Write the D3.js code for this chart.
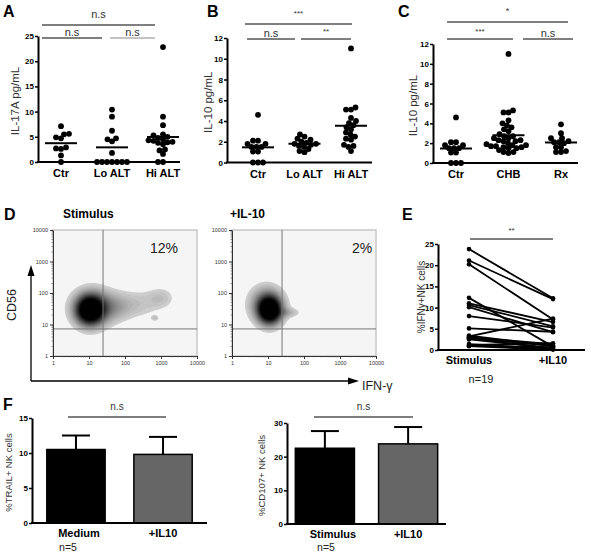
<!DOCTYPE html>
<html><head><meta charset="utf-8">
<script src="https://cdn.jsdelivr.net/npm/d3@7"></script>
<style>body{margin:0;background:#fff}svg{display:block}text{font-family:Arial,"Liberation Sans",sans-serif}</style>
</head><body><svg id="c" width="591" height="554"></svg>
<script>
// ---------------- DATA ----------------
const catsAB = ["Ctr", "Lo ALT", "Hi ALT"];
const catsC = ["Ctr", "CHB", "Rx"];
// Panel A: IL-17A pg/mL
const il17Ctr = [7.1, 5.6, 5.5, 4.9, 4.7, 2.9, 2.7, 2.6, 1.3, 0];
const il17Lo = [10.4, 9.0, 6.2, 4.7, 4.5, 4.1, 1.8, 0, 0, 0, 0, 0, 0, 0];
const il17Hi = [22.8, 9.0, 7.3, 5.5, 5.3, 5.0, 4.8, 4.5, 4.3, 4.2, 4.0, 3.9, 3.8, 3.5, 2.5, 2.3, 1.6, 0, 0];
// Panel B/C: IL-10 pg/mL
const il10Ctr = [4.6, 2.1, 2.1, 1.8, 1.8, 1.5, 1.5, 1.5, 1.05, 1.05, 0, 0, 0];
const il10Lo = [2.7, 2.5, 2.3, 2.2, 2.0, 1.9, 1.8, 1.8, 1.7, 1.6, 1.5, 1.3, 1.1, 1.0];
const il10Hi = [11.0, 5.3, 5.1, 5.1, 4.3, 4.0, 3.8, 3.6, 3.4, 3.2, 2.9, 2.7, 2.5, 2.3, 2.2, 1.7, 1.6, 1.5, 1.1];
const il10CHB = il10Lo.concat(il10Hi);
const il10Rx = [3.9, 3.0, 2.5, 2.5, 2.2, 2.1, 2.1, 2.0, 1.6, 1.6, 1.2, 1.1, 1.1];
const ticksA = [0, 5, 10, 15, 20, 25];
const ticksBC = [0, 2, 4, 6, 8, 10, 12];
// Panel D: flow cytometry density components (log10 IFN-g, log10 CD56, sdx, sdy, weight)
const flowTicks = ["1", "10", "100", "1000", "10000"];
const stimComps = [[1.02, 1.45, 0.25, 0.30, 1.0], [1.15, 1.55, 0.36, 0.35, 0.40], [1.75, 1.55, 0.30, 0.28, 0.13],
                   [2.35, 1.65, 0.42, 0.30, 0.09], [3.00, 1.85, 0.25, 0.22, 0.09], [2.83, 1.20, 0.07, 0.06, 0.10]];
const il10Comps = [[1.05, 1.45, 0.21, 0.28, 1.0], [0.95, 1.65, 0.30, 0.36, 0.32], [1.55, 1.38, 0.22, 0.10, 0.12]];
const flowPct = ["12%", "2%"];
// Panel E: %IFNg+ NK cells, paired
const eCats = ["Stimulus", "+IL10"];
const eStim = [23.8, 21.1, 20.2, 12.3, 11.0, 10.6, 10.1, 8.0, 5.1, 3.2, 3.0, 2.8, 2.5, 2.9, 1.4, 1.0, 1.2, 3.4, 0.9];
const eIL10 = [12.2, 12.0, 7.2, 0.8, 6.6, 5.6, 4.2, 5.3, 4.3, 7.4, 1.4, 1.0, 0.5, 0.2, 0.3, 0.6, 1.6, 0.9, 0.1];
const ticksE = [0, 5, 10, 15, 20, 25];
// Panel F
const fCats1 = ["Medium", "+IL10"];
const trailMean = [10.5, 9.8];
const trailErr = [2.0, 2.5];
const fCats2 = ["Stimulus", "+IL10"];
const cd107Mean = [22.5, 23.8];
const cd107Err = [5.1, 5.0];
const ticksF1 = [0, 5, 10, 15];
const ticksF2 = [0, 10, 20, 30];

// ---------------- DRAW ----------------
const svg = d3.select("#c");
function text(x, y, s, o = {}) {
  const t = svg.append("text").attr("x", x).attr("y", y).text(s)
    .attr("font-size", o.size || 11).attr("fill", o.fill || "#000")
    .attr("font-weight", o.bold ? "bold" : "normal")
    .attr("text-anchor", o.anchor || "middle");
  if (o.rot) t.attr("transform", `rotate(${o.rot},${x},${y})`);
  return t;
}
function line(x1, y1, x2, y2, o = {}) {
  return svg.append("line").attr("x1", x1).attr("y1", y1).attr("x2", x2).attr("y2", y2)
    .attr("stroke", o.stroke || "#000").attr("stroke-width", o.w || 1);
}
function styleAxis(g) {
  g.select(".domain").attr("stroke-width", 2);
  g.selectAll(".tick line").attr("stroke-width", 1.5);
  g.selectAll(".tick text").attr("font-size", 8).attr("font-weight", "bold").attr("font-family", "'Liberation Sans Narrow', Arial, sans-serif");
}
function swarm(values, y, minDist) {
  const pts = values.map(v => ({ v, y: y(v) })).sort((a, b) => a.v - b.v);
  const placed = [];
  for (const p of pts) {
    p.dx = 0;
    for (let k = 0; k < 400; k++) {
      const off = (k % 2 === 0 ? 1 : -1) * Math.ceil(k / 2) * 0.5;
      if (placed.every(q => Math.hypot(q.dx - off, q.y - p.y) >= minDist)) { p.dx = off; break; }
    }
    placed.push(p);
  }
  return placed;
}
function dotPanel(cfg) {
  const x = d3.scalePoint().domain(cfg.cats).range(cfg.xRange);
  const y = d3.scaleLinear().domain(cfg.yDomain).range(cfg.yRange);
  const g = svg.append("g");
  const ax = g.append("g").attr("transform", `translate(${cfg.axisX[0]},0)`)
    .call(d3.axisLeft(y).tickValues(cfg.yTicks).tickSize(3).tickSizeOuter(0).tickPadding(1));
  styleAxis(ax);
  g.append("line").attr("x1", cfg.axisX[0] - 1).attr("x2", cfg.axisX[1]).attr("y1", y(0)).attr("y2", y(0)).attr("stroke", "#000").attr("stroke-width", 2);
  cfg.cats.forEach((c, i) => {
    const pts = swarm(cfg.series[i], y, 4.8);
    g.selectAll(null).data(pts).join("circle").attr("cx", d => x(c) + d.dx).attr("cy", d => d.y).attr("r", 2.9).attr("fill", "#000");
    const m = d3.mean(cfg.series[i]);
    g.append("line").attr("x1", x(c) - 16).attr("x2", x(c) + 16).attr("y1", y(m)).attr("y2", y(m)).attr("stroke", "#000").attr("stroke-width", 2);
    text(x(c), y(0) + 15, c, { bold: true, size: 11 });
  });
  text(cfg.titleX, (cfg.yRange[0] + cfg.yRange[1]) / 2 + 2, cfg.title, { rot: -90, size: 11.5, fill: "#333" });
  return x;
}
function sig(x1, x2, y, label, ly, size, col) {
  line(x1, y, x2, y, { stroke: col || "#000", w: 1 });
  text((x1 + x2) / 2, ly, label, { size, fill: "#333" });
}

// Panel A
text(3, 17, "A", { bold: true, size: 16, anchor: "start" });
dotPanel({ cats: catsAB, series: [il17Ctr, il17Lo, il17Hi], xRange: [61, 163], axisX: [38, 180], yDomain: [0, 25], yRange: [162, 36], yTicks: ticksA, title: "IL-17A pg/mL", titleX: 19 });
sig(42, 155, 25, "n.s", 18, 11);
sig(42, 102, 38, "n.s", 36, 11);
sig(110, 155, 38, "n.s", 36, 11, "#888");

// Panel B
text(207, 17, "B", { bold: true, size: 16, anchor: "start" });
dotPanel({ cats: catsAB, series: [il10Ctr, il10Lo, il10Hi], xRange: [258, 351], axisX: [227, 372], yDomain: [0, 12], yRange: [162.5, 38], yTicks: ticksBC, title: "IL-10 pg/mL", titleX: 212 });
sig(245, 352, 24, "***", 16, 8);
sig(247, 295, 39, "n.s", 37, 11);
sig(301, 351, 39, "**", 34, 8);

// Panel C
text(398, 17, "C", { bold: true, size: 16, anchor: "start" });
dotPanel({ cats: catsC, series: [il10Ctr, il10CHB, il10Rx], xRange: [456, 561], axisX: [433, 578], yDomain: [0, 12], yRange: [163, 44], yTicks: ticksBC, title: "IL-10 pg/mL", titleX: 417 });
sig(447, 568, 22, "*", 14, 9);
sig(447, 513, 39, "***", 34, 8);
sig(523, 573, 39, "n.s", 37, 11);

// Panel D
text(4, 220, "D", { bold: true, size: 16, anchor: "start" });
text(63, 218, "Stimulus", { bold: true, size: 12, anchor: "start" });
text(230, 218, "+IL-10", { bold: true, size: 12, anchor: "start" });
let clipId = 0;
function flowPanel(left, right, top, bottom, comps, pct, pctX) {
  const xs = d3.scaleLinear().domain([0, 4]).range([left, right]);
  const ys = d3.scaleLinear().domain([0, 4]).range([bottom, top]);
  const g = svg.append("g");
  g.append("rect").attr("x", left).attr("y", top).attr("width", right - left).attr("height", bottom - top)
    .attr("fill", "#f5f5f5").attr("stroke", "#c8c8c8").attr("stroke-width", 1.5);
  const n = 200, m = 200;
  const vals = new Float64Array(n * m);
  for (let j = 0; j < m; j++) for (let i = 0; i < n; i++) {
    const lx = (i + 0.5) * 4 / n, ly = (j + 0.5) * 4 / m;
    let s = 0;
    for (const [cx, cy, sx, sy, w] of comps) s += w * Math.exp(-0.5 * ((lx - cx) / sx) ** 2 - 0.5 * ((ly - cy) / sy) ** 2);
    vals[j * n + i] = s;
  }
  const mx = d3.max(vals), t0 = 0.05;
  const thr = d3.range(t0, mx, (mx - t0) / 50);
  const cs = d3.contours().size([n, m]).thresholds(thr)(vals);
  const proj = d3.geoTransform({ point(px, py) { this.stream.point(xs(px * 4 / n), ys(py * 4 / m)); } });
  const path = d3.geoPath(proj);
  const id = "clip" + (clipId++);
  g.append("clipPath").attr("id", id).append("rect").attr("x", left).attr("y", top).attr("width", right - left).attr("height", bottom - top);
  g.append("g").attr("clip-path", `url(#${id})`).selectAll("path").data(cs).join("path").attr("d", path)
    .attr("fill", d => { const t = Math.min(1, (d.value - t0) / (0.6 * mx - t0)); const c = Math.round(205 * Math.pow(1 - t, 1.3)); return `rgb(${c},${c},${c})`; });
  // quadrant
  g.append("line").attr("x1", xs(1.39)).attr("x2", xs(1.39)).attr("y1", top).attr("y2", bottom).attr("stroke", "#777");
  g.append("line").attr("x1", left).attr("x2", right).attr("y1", ys(0.86)).attr("y2", ys(0.86)).attr("stroke", "#777");
  // axes
  const ya = g.append("g").attr("transform", `translate(${left},0)`)
    .call(d3.axisLeft(ys).tickValues([0, 1, 2, 3, 4]).tickFormat((d, i) => flowTicks[i]).tickSize(3).tickSizeOuter(0).tickPadding(2));
  const xa = g.append("g").attr("transform", `translate(0,${bottom})`)
    .call(d3.axisBottom(xs).tickValues([0, 1, 2, 3, 4]).tickFormat((d, i) => flowTicks[i]).tickSize(3).tickSizeOuter(0).tickPadding(2));
  [ya, xa].forEach(a => { a.select(".domain").attr("stroke", "#333"); a.selectAll("text").attr("font-size", 5.5).attr("fill", "#333"); a.selectAll(".tick line").attr("stroke", "#333"); });
  const minor = [];
  for (let d = 0; d < 4; d++) for (let k = 2; k < 10; k++) minor.push(d + Math.log10(k));
  g.selectAll(null).data(minor).join("line").attr("x1", left).attr("x2", left - 1.5).attr("y1", d => ys(d)).attr("y2", d => ys(d)).attr("stroke", "#555").attr("stroke-width", 0.6);
  g.selectAll(null).data(minor).join("line").attr("y1", bottom).attr("y2", bottom + 1.5).attr("x1", d => xs(d)).attr("x2", d => xs(d)).attr("stroke", "#555").attr("stroke-width", 0.6);
  text(pctX, 253, pct, { size: 14, fill: "#222", anchor: "start" });
}
flowPanel(53, 197, 230, 356, stimComps, flowPct[0], 150);
flowPanel(232, 376, 230, 356, il10Comps, flowPct[1], 352);
// big arrows
line(31, 381, 31, 272, { w: 1.3 });
svg.append("path").attr("d", "M31,265 L27.5,276 L34.5,276 Z").attr("fill", "#000");
line(31, 381, 352, 381, { w: 1.3 });
svg.append("path").attr("d", "M359,381 L348,377.5 L348,384.5 Z").attr("fill", "#000");
text(16, 305, "CD56", { rot: -90, size: 12.5, fill: "#222" });
text(362, 390, "IFN-γ", { size: 12.5, fill: "#222", anchor: "start" });

// Panel E
text(402, 220, "E", { bold: true, size: 16, anchor: "start" });
{
  const x = d3.scalePoint().domain(eCats).range([469, 553]);
  const y = d3.scaleLinear().domain([0, 25]).range([350, 244]);
  const ax = svg.append("g").attr("transform", "translate(438,0)").call(d3.axisLeft(y).tickValues(ticksE).tickSize(3).tickSizeOuter(0).tickPadding(1));
  styleAxis(ax);
  line(437, y(0), 585, y(0), { w: 2 });
  const pairs = eStim.map((s, i) => [s, eIL10[i]]);
  svg.append("g").selectAll("line").data(pairs).join("line")
    .attr("x1", x(eCats[0])).attr("x2", x(eCats[1])).attr("y1", d => y(d[0])).attr("y2", d => y(d[1])).attr("stroke", "#000").attr("stroke-width", 1.8);
  svg.append("g").selectAll("circle").data(eStim.concat(eIL10).map((v, i) => [i < eStim.length ? 0 : 1, v])).join("circle")
    .attr("cx", d => x(eCats[d[0]])).attr("cy", d => y(d[1])).attr("r", 2.3);
  eCats.forEach(c => text(x(c), 364, c, { bold: true, size: 11 }));
  text(481, 383, "n=19", { size: 11, fill: "#222" });
  text(425, 297, "%IFNγ+NK cells", { rot: -90, size: 10, fill: "#333" });
  sig(470, 553, 239, "**", 233, 8);
}

// Panel F
text(3, 410, "F", { bold: true, size: 16, anchor: "start" });
function barPanel(cfg) {
  const x = d3.scaleBand().domain(cfg.cats).range(cfg.xRange).paddingInner(cfg.pi).paddingOuter(cfg.po);
  const y = d3.scaleLinear().domain(cfg.yDomain).range(cfg.yRange);
  const g = svg.append("g");
  const ax = g.append("g").attr("transform", `translate(${cfg.xRange[0]},0)`).call(d3.axisLeft(y).tickValues(cfg.yTicks).tickSize(3).tickSizeOuter(0).tickPadding(1));
  styleAxis(ax);
  const cols = ["#000", "#666"];
  cfg.cats.forEach((c, i) => {
    const cx = x(c) + x.bandwidth() / 2;
    g.append("line").attr("x1", cx).attr("x2", cx).attr("y1", y(cfg.mean[i])).attr("y2", y(cfg.mean[i] + cfg.err[i])).attr("stroke", "#000").attr("stroke-width", 2);
    g.append("line").attr("x1", cx - 14).attr("x2", cx + 14).attr("y1", y(cfg.mean[i] + cfg.err[i])).attr("y2", y(cfg.mean[i] + cfg.err[i])).attr("stroke", "#000").attr("stroke-width", 2);
    g.append("rect").attr("x", x(c)).attr("y", y(cfg.mean[i])).attr("width", x.bandwidth()).attr("height", y(0) - y(cfg.mean[i]))
      .attr("fill", cols[i]).attr("stroke", "#000").attr("stroke-width", 1.5);
    text(cx + (cfg.labelDx ? cfg.labelDx[i] : 0), y(0) + 14, c, { bold: true, size: 11 });
  });
  g.append("line").attr("x1", cfg.xRange[0] - 1).attr("x2", cfg.xRange[1]).attr("y1", y(0)).attr("y2", y(0)).attr("stroke", "#000").attr("stroke-width", 2);
  text(cfg.titleX, (cfg.yRange[0] + cfg.yRange[1]) / 2 + 2, cfg.title, { rot: -90, size: 9.5, fill: "#333" });
  text(cfg.nX, 551, "n=5", { size: 10.5, fill: "#222" });
  sig(cfg.sig[0], cfg.sig[1], 417, "n.s", 410, 10);
}
barPanel({ cats: fCats1, mean: trailMean, err: trailErr, xRange: [32, 207], pi: 0.33, po: 0.17, yDomain: [0, 15], yRange: [523, 418], yTicks: ticksF1, title: "%TRAIL+ NK cells", titleX: 12, nX: 68, sig: [68, 166], labelDx: [3, 0] });
barPanel({ cats: fCats2, mean: cd107Mean, err: cd107Err, xRange: [287, 446], pi: 0.29, po: 0.1, yDomain: [0, 30], yRange: [524, 423], yTicks: ticksF2, title: "%CD107+ NK cells", titleX: 265, nX: 326, sig: [314, 413], labelDx: [8, 0] });
</script>
</body></html>
